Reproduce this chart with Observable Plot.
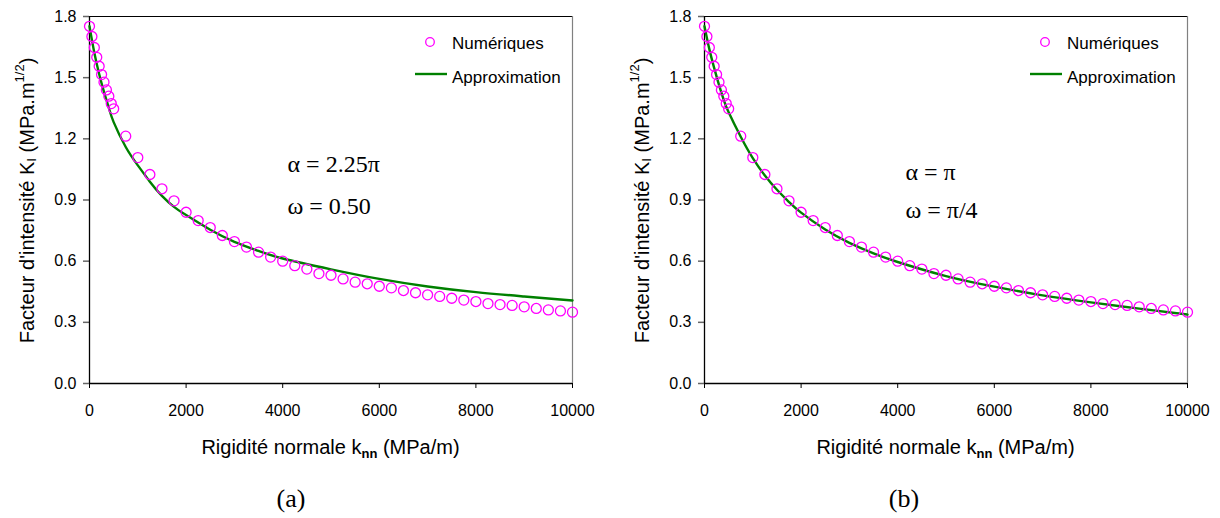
<!DOCTYPE html>
<html>
<head>
<meta charset="utf-8">
<script src="https://cdn.jsdelivr.net/npm/d3@7"></script>
<script src="https://cdn.jsdelivr.net/npm/@observablehq/plot@0.6"></script>
<style>
  body { margin: 0; background: #fff; }
  #wrap { position: relative; width: 1220px; height: 518px; overflow: hidden; background: #fff; }
  .panel { position: absolute; top: 0; }
</style>
</head>
<body>
<div id="wrap"></div>
<script>
// ---- data ----
const kNum = [0, 50, 100, 150, 200, 250, 300, 350, 400, 450, 500,
  750, 1000, 1250, 1500, 1750, 2000, 2250, 2500, 2750, 3000, 3250, 3500, 3750, 4000,
  4250, 4500, 4750, 5000, 5250, 5500, 5750, 6000, 6250, 6500, 6750, 7000, 7250, 7500,
  7750, 8000, 8250, 8500, 8750, 9000, 9250, 9500, 9750, 10000];
const kiNumA = [1.752, 1.702, 1.648, 1.600, 1.556, 1.515, 1.478, 1.440, 1.409, 1.373, 1.347,
  1.213, 1.108, 1.025, 0.955, 0.896, 0.840, 0.799, 0.765, 0.726, 0.696, 0.669, 0.644, 0.620, 0.600,
  0.578, 0.561, 0.539, 0.531, 0.513, 0.497, 0.489, 0.477, 0.469, 0.456, 0.445, 0.435, 0.427, 0.418,
  0.409, 0.402, 0.392, 0.387, 0.383, 0.376, 0.368, 0.361, 0.356, 0.350];
const kiNumB = [1.752, 1.702, 1.648, 1.600, 1.556, 1.515, 1.478, 1.440, 1.409, 1.373, 1.347,
  1.213, 1.108, 1.025, 0.955, 0.896, 0.840, 0.799, 0.765, 0.726, 0.696, 0.669, 0.644, 0.620, 0.600,
  0.578, 0.561, 0.539, 0.531, 0.513, 0.497, 0.489, 0.477, 0.469, 0.456, 0.445, 0.435, 0.427, 0.418,
  0.409, 0.402, 0.392, 0.387, 0.383, 0.376, 0.368, 0.361, 0.356, 0.350];

const kApproxA = [0, 100, 200, 300, 400, 500, 750, 1000, 1250, 1500, 1750, 2000, 2500, 3000, 3500, 4000, 5000, 6000, 7000, 8000, 9000, 10000];
const kiApproxA = [1.752, 1.622, 1.518, 1.430, 1.352, 1.282, 1.160, 1.070, 0.990, 0.920, 0.866, 0.826, 0.754, 0.695, 0.650, 0.613, 0.560, 0.513, 0.476, 0.448, 0.427, 0.407];

const kApproxB = [0, 100, 200, 300, 400, 500, 750, 1000, 1250, 1500, 1750, 2000, 2500, 3000, 3500, 4000, 5000, 6000, 7000, 8000, 9000, 10000];
const kiApproxB = [1.752, 1.640, 1.548, 1.465, 1.390, 1.330, 1.210, 1.105, 1.020, 0.950, 0.890, 0.838, 0.755, 0.690, 0.638, 0.596, 0.527, 0.475, 0.432, 0.398, 0.367, 0.338];

const xTicks = [0, 2000, 4000, 6000, 8000, 10000];
const yTicks = [0.0, 0.3, 0.6, 0.9, 1.2, 1.5, 1.8];

const legendLabels = ["Numériques", "Approximation"];
const captions = ["(a)", "(b)"];
const annotA = ["α = 2.25π", "ω = 0.50"];
const annotB = ["α = π", "ω = π/4"];

// ---- drawing ----
const SANS = "Liberation Sans, Arial, sans-serif";
const SERIF = "Liberation Serif, Times New Roman, serif";
const MAGENTA = "#ff00ff", GREEN = "#008000";

function panel({left, marginLeft, marginRight, numY, apX, apY, annot, annotPos, caption}) {
  const num = kNum.map((k, i) => ({k, ki: numY[i]}));
  const ap = apX.map((k, i) => ({k, ki: apY[i]}));
  const W = 610, H = 518, mt = 16, mb = 135;
  const svg = Plot.plot({
    width: W, height: H,
    marginLeft, marginRight, marginTop: mt, marginBottom: mb,
    style: {fontFamily: SANS, fontSize: "16px", color: "#000", background: "transparent", overflow: "visible"},
    x: {domain: [0, 10000]},
    y: {domain: [0, 1.8]},
    marks: [
      Plot.ruleY([1.8], {stroke: "#000", strokeWidth: 1.2}),
      Plot.ruleX([10000], {stroke: "#808080", strokeWidth: 1.2}),
      Plot.axisX({ticks: xTicks, tickSize: 5, tickPadding: 16, tickFormat: d => String(d), label: null, stroke: "#000", fill: "#000", fontSize: 16}),
      Plot.axisY({ticks: yTicks, tickSize: 6, tickPadding: 7, tickFormat: d3.format(".1f"), label: null, stroke: "#666", strokeWidth: 1.5, fill: "#000", fontSize: 16}),
      Plot.ruleX([0], {stroke: "#000", strokeWidth: 1.3}),
      Plot.ruleY([0], {stroke: "#000", strokeWidth: 1.3}),
      Plot.line(ap, {x: "k", y: "ki", stroke: GREEN, strokeWidth: 2.4, curve: "natural"}),
      Plot.dot(num, {x: "k", y: "ki", r: 5, stroke: MAGENTA, strokeWidth: 1.3, fill: "none"}),
      Plot.text([annot[0]], {x: annotPos[0][0], y: annotPos[0][1], text: d => d, textAnchor: "start", fontFamily: SERIF, fontSize: 24, fill: "#000"}),
      Plot.text([annot[1]], {x: annotPos[1][0], y: annotPos[1][1], text: d => d, textAnchor: "start", fontFamily: SERIF, fontSize: 24, fill: "#000"})
    ]
  });
  const s = d3.select(svg);
  const x0 = marginLeft, x1 = W - marginRight;
  const xr = x1;
  // legend
  const lg = s.append("g").attr("font-family", SANS).attr("font-size", 17).attr("fill", "#000").attr("text-anchor", "start");
  lg.append("circle").attr("cx", xr - 142).attr("cy", 42).attr("r", 4.3).attr("fill", "none").attr("stroke", MAGENTA).attr("stroke-width", 1.3);
  lg.append("text").attr("x", xr - 120).attr("y", 43).attr("text-anchor", "start").attr("dominant-baseline", "central").text(legendLabels[0]);
  lg.append("line").attr("x1", xr - 157).attr("x2", xr - 125).attr("y1", 74).attr("y2", 74).attr("stroke", GREEN).attr("stroke-width", 2.4);
  lg.append("text").attr("x", xr - 120).attr("y", 77).attr("text-anchor", "start").attr("dominant-baseline", "central").text(legendLabels[1]);
  // y title
  const yt = s.append("text").attr("font-family", SANS).attr("font-size", 20).attr("fill", "#000")
    .attr("text-anchor", "middle")
    .attr("transform", `translate(${x0 - 62},${(mt + (H - mb)) / 2 + 1}) rotate(-90)`)
    .attr("dominant-baseline", "central");
  yt.append("tspan").text("Facteur d'intensité K");
  yt.append("tspan").attr("font-size", 13).attr("dy", 4).text("I");
  yt.append("tspan").attr("dy", -4).text(" (MPa.m");
  yt.append("tspan").attr("font-size", 13).attr("dy", -8).text("1/2");
  yt.append("tspan").attr("dy", 8).text(")");
  // x title
  const xt = s.append("text").attr("font-family", SANS).attr("font-size", 20).attr("fill", "#000")
    .attr("text-anchor", "middle").attr("x", (x0 + x1) / 2).attr("y", 454);
  xt.append("tspan").text("Rigidité normale k");
  xt.append("tspan").attr("font-size", 13).attr("font-weight", "bold").attr("dy", 4).text("nn");
  xt.append("tspan").attr("dy", -4).text(" (MPa/m)");
  // caption
  s.append("text").attr("font-family", SERIF).attr("font-size", 26).attr("fill", "#000")
    .attr("text-anchor", "middle").attr("x", caption.x).attr("y", 507).text(caption.text);

  const div = document.createElement("div");
  div.className = "panel";
  div.style.left = left + "px";
  div.appendChild(svg);
  document.getElementById("wrap").appendChild(div);
}

panel({left: 0, marginLeft: 89, marginRight: 38, numY: kiNumA, apX: kApproxA, apY: kiApproxA,
  annot: annotA, annotPos: [[4100, 1.075], [4100, 0.87]], caption: {x: 291, text: captions[0]}});
panel({left: 610, marginLeft: 94, marginRight: 33, numY: kiNumB, apX: kApproxB, apY: kiApproxB,
  annot: annotB, annotPos: [[4160, 1.035], [4160, 0.85]], caption: {x: 294, text: captions[1]}});
</script>
</body>
</html>
